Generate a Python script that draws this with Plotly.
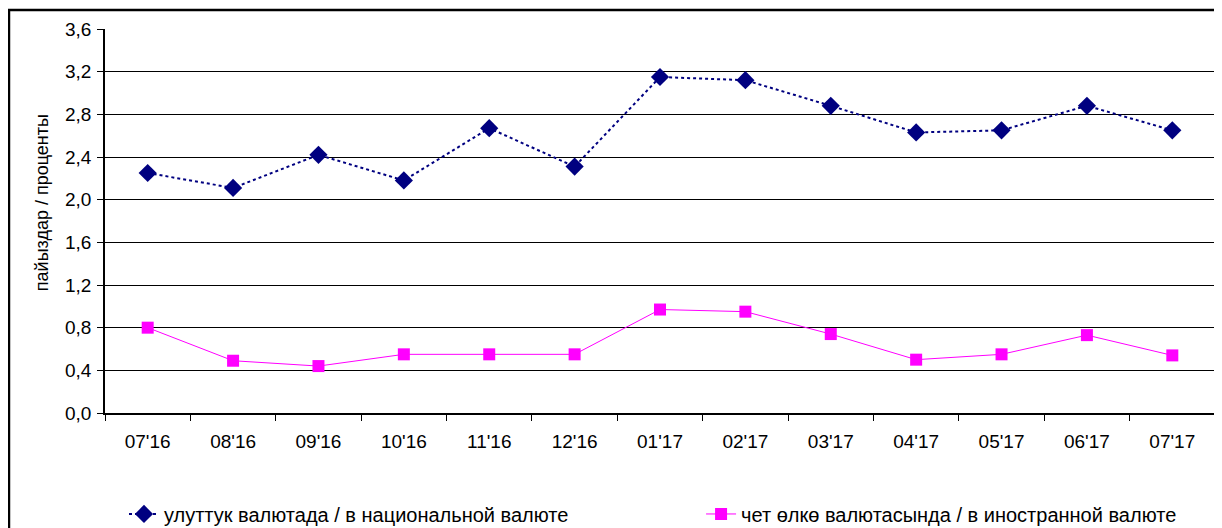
import plotly.graph_objects as go

# Периоды
months = ["07'16", "08'16", "09'16", "10'16", "11'16", "12'16",
          "01'17", "02'17", "03'17", "04'17", "05'17", "06'17", "07'17"]

# В национальной валюте
national = [2.25, 2.11, 2.42, 2.18, 2.67, 2.31, 3.15, 3.12, 2.88, 2.63, 2.65, 2.88, 2.65]

# В иностранной валюте
foreign = [0.80, 0.49, 0.44, 0.55, 0.55, 0.55, 0.97, 0.95, 0.74, 0.50, 0.55, 0.73, 0.54]

yticks = [0.0, 0.4, 0.8, 1.2, 1.6, 2.0, 2.4, 2.8, 3.2, 3.6]

fig = go.Figure()

fig.add_trace(go.Scatter(
    x=months, y=national, mode="lines+markers",
    name="улуттук валютада / в национальной валюте",
    line=dict(color="#000080", width=2, dash="dot"),
    marker=dict(symbol="diamond", size=14, color="#000080"),
    legend="legend",
))

fig.add_trace(go.Scatter(
    x=months, y=foreign, mode="lines+markers",
    name="чет өлкө валютасында / в иностранной валюте",
    line=dict(color="#FF00FF", width=1),
    marker=dict(symbol="square", size=12, color="#FF00FF"),
    legend="legend2",
))

# Рамка вокруг всей диаграммы (правый край за пределами картинки)
fig.add_shape(type="rect", xref="paper", yref="paper",
              x0=-0.0865, x1=1.05, y0=-0.35, y1=1.0495,
              line=dict(color="black", width=2.5), layer="below")

# Подпись оси Y (смещена вверх, как в оригинале)
fig.add_annotation(text="пайыздар / проценты", textangle=-90,
                   xref="paper", yref="paper", x=-0.0676, y=0.549,
                   showarrow=False, font=dict(size=18))

leg = dict(orientation="h", yref="container", y=0.027, xanchor="left",
           yanchor="middle", font=dict(size=20), bgcolor="rgba(0,0,0,0)")

fig.update_layout(
    width=1214, height=520,
    margin=dict(l=97, r=7, t=21, b=115),
    paper_bgcolor="white", plot_bgcolor="white",
    separators=", ",
    font=dict(family="Liberation Sans, Arial, sans-serif", size=19, color="black"),
    showlegend=True,
    legend=dict(leg, x=0.0171),
    legend2=dict(leg, x=0.537),
    xaxis=dict(type="category", showline=True, linecolor="black", linewidth=1.5,
               ticks="outside", tickson="boundaries", ticklen=6, tickcolor="black",
               showgrid=False, range=[-0.5, 12.5], automargin=False,
               tickfont=dict(size=19), ticklabelstandoff=10),
    yaxis=dict(range=[0, 3.6], tickvals=yticks, tickformat=".1f",
               showline=True, linecolor="black", linewidth=1.5,
               ticks="outside", ticklen=6, tickcolor="black",
               showgrid=True, gridcolor="black", gridwidth=1, zeroline=False,
               automargin=False, tickfont=dict(size=19), ticklabelstandoff=2),
)

fig.write_html("out.html")
